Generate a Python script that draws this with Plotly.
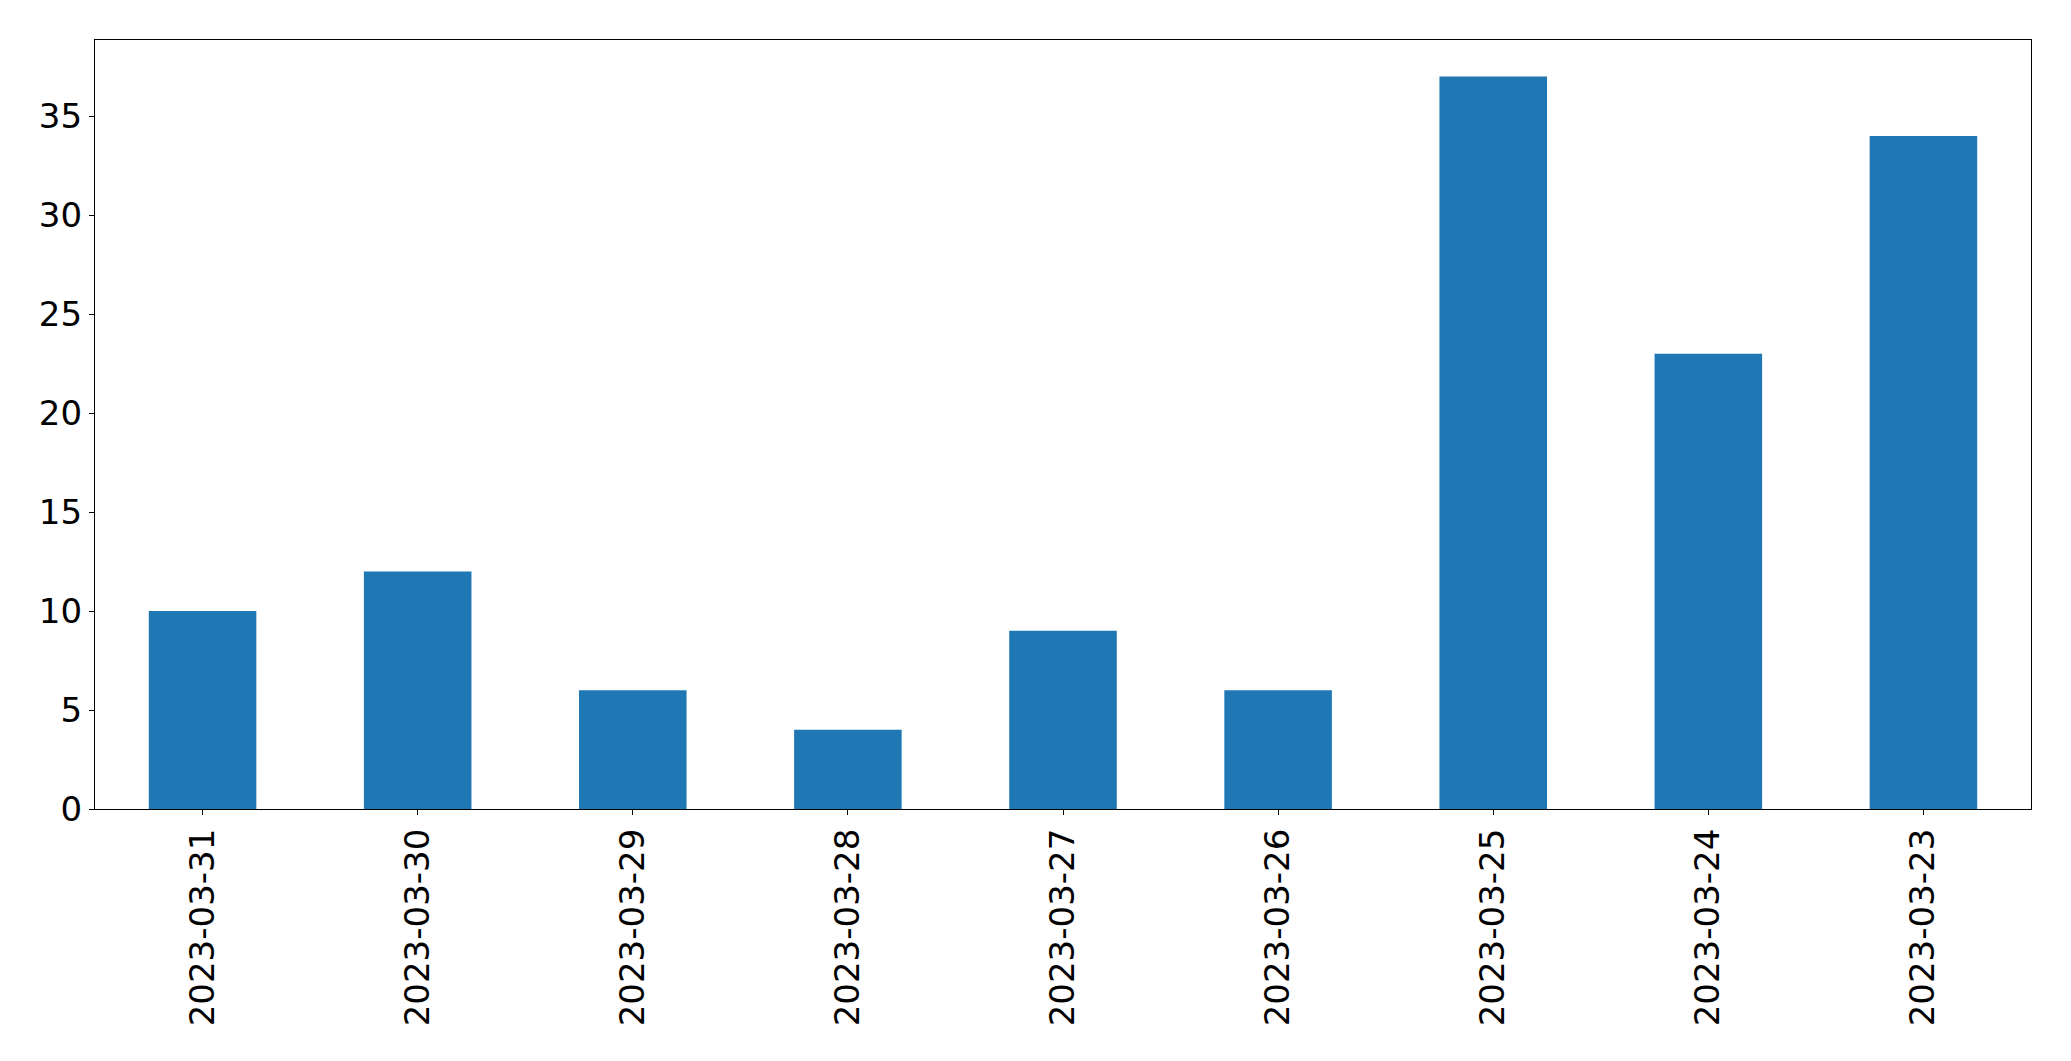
import plotly.graph_objects as go

dates = ["2023-03-31", "2023-03-30", "2023-03-29", "2023-03-28", "2023-03-27",
         "2023-03-26", "2023-03-25", "2023-03-24", "2023-03-23"]
counts = [10, 12, 6, 4, 9, 6, 37, 23, 34]

fig = go.Figure(go.Bar(x=dates, y=counts, marker_color="#1f77b4",
                       marker_line_width=0, width=0.5))

axis_common = dict(showline=True, mirror=True, linecolor="black", linewidth=1.2,
                   ticks="outside", ticklen=5, tickwidth=1.2, tickcolor="black",
                   showgrid=False, zeroline=False,
                   tickfont=dict(family="DejaVu Sans", size=34, color="black"))

fig.update_layout(
    width=2063, height=1053,
    margin=dict(l=87, r=40, t=32, b=252),
    paper_bgcolor="white", plot_bgcolor="white",
    showlegend=False,
    xaxis=dict(type="category", range=[-0.5, 8.5], tickangle=-90, **axis_common),
    yaxis=dict(range=[0, 38.85], tickmode="linear", tick0=0, dtick=5, **axis_common),
    bargap=0.5,
)

fig.write_html("out.html")
